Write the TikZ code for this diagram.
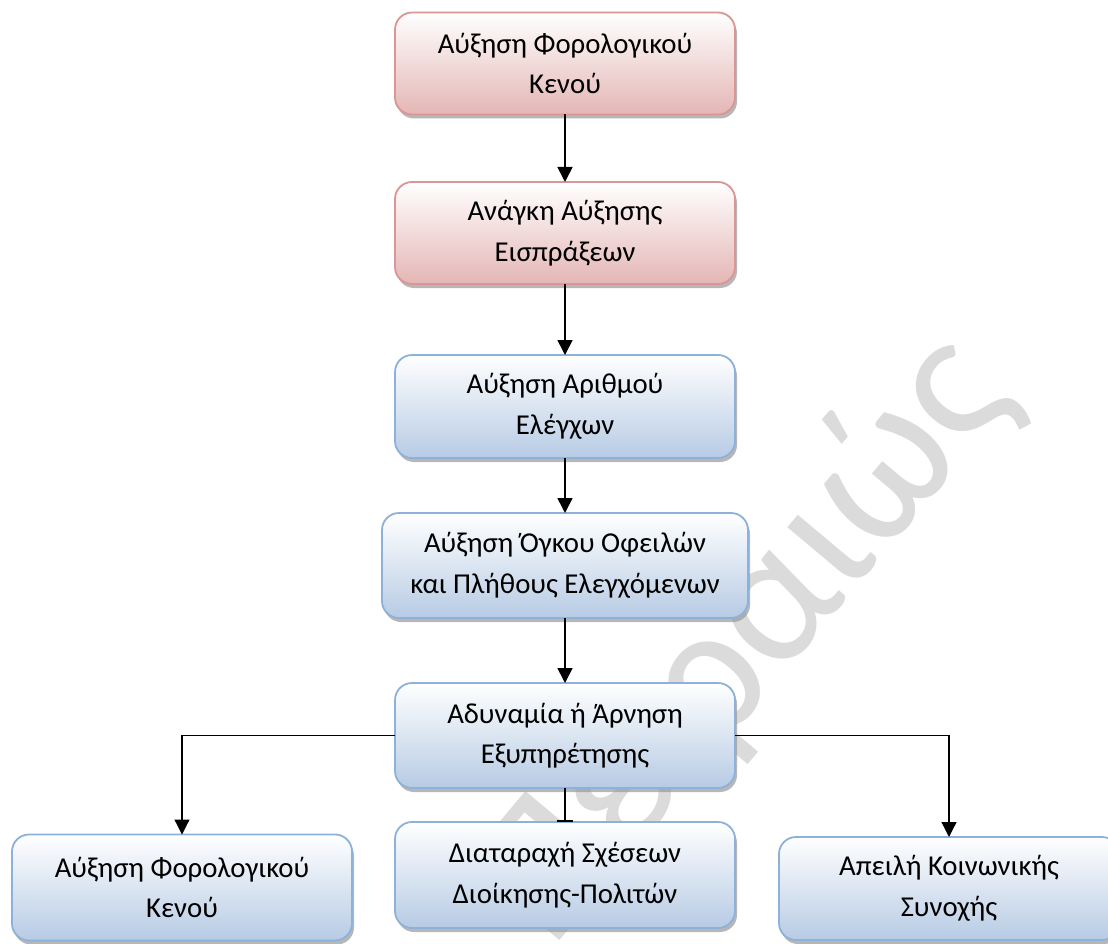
\documentclass[tikz,border=0pt]{standalone}
\usepackage{fontspec}
\setmainfont{Carlito}
\usetikzlibrary{arrows.meta,shadows}
\definecolor{redline}{HTML}{D99694}
\definecolor{redfill}{HTML}{E4B6B5}
\definecolor{blueline}{HTML}{8EB1DA}
\definecolor{bluefill}{HTML}{B7CBE4}
\begin{document}
\begin{tikzpicture}[x=1pt, y=-1pt, >={Triangle[width=15pt,length=15pt]},
    box/.style={rounded corners=17pt, line width=1.8pt, minimum width=340pt,
      minimum height=102pt, align=center, inner sep=0pt, outer sep=0pt,
      font=\fontsize{28.8}{40.5}\selectfont,
      drop shadow={shadow xshift=2pt, shadow yshift=-4pt, fill=black!40, opacity=0.7}},
    redbox/.style={box, draw=redline, top color=white, bottom color=redfill},
    bluebox/.style={box, draw=blueline, top color=white, bottom color=bluefill},
    conn/.style={line width=1.6pt},
    link/.style={line width=1.2pt}]
    \fill[white] (0,0) rectangle (1108,944);
    \useasboundingbox (0,0) rectangle (1108,944);
    \node[rotate=50, text=black!14, font=\fontsize{190}{200}\selectfont] (wm) at (745,640) {Πειραιώς};

    \node[redbox] (gap) at (565,63.5) {Αύξηση Φορολογικού\\Κενού};
    \node[redbox] (need) at (565,233) {Ανάγκη Αύξησης\\Εισπράξεων};
    \node[bluebox, minimum height=103pt] (checks) at (565,406.5) {Αύξηση Αριθμού\\Ελέγχων};
    \node[bluebox, minimum width=366pt, minimum height=105pt] (debts) at (565,565.5) {Αύξηση Όγκου Οφειλών\\και Πλήθους Ελεγχόμενων};
    \node[bluebox, minimum height=105pt] (service) at (565,735.5) {Αδυναμία ή Άρνηση\\Εξυπηρέτησης};
    \node[bluebox, minimum height=106pt] (gap2) at (182,887.5) {Αύξηση Φορολογικού\\Κενού};
    \node[bluebox, minimum height=106pt] (relations) at (565,875) {Διαταραχή Σχέσεων\\Διοίκησης-Πολιτών};
    \node[bluebox, minimum height=103pt] (cohesion) at (949,888.5) {Απειλή Κοινωνικής\\Συνοχής};

    \draw[conn,->] (gap) -- (need);
    \draw[conn,->] (need) -- (checks);
    \draw[conn,->] (checks) -- (debts);
    \draw[conn,->] (debts) -- (service);
    \draw[link,->] (service.west) -| (gap2.north);
    \draw[link,->] (service.east) -| (cohesion.north);
    \draw[conn,-{Bar[width=16pt]}] (service) -- (relations);
\end{tikzpicture}
\end{document}
